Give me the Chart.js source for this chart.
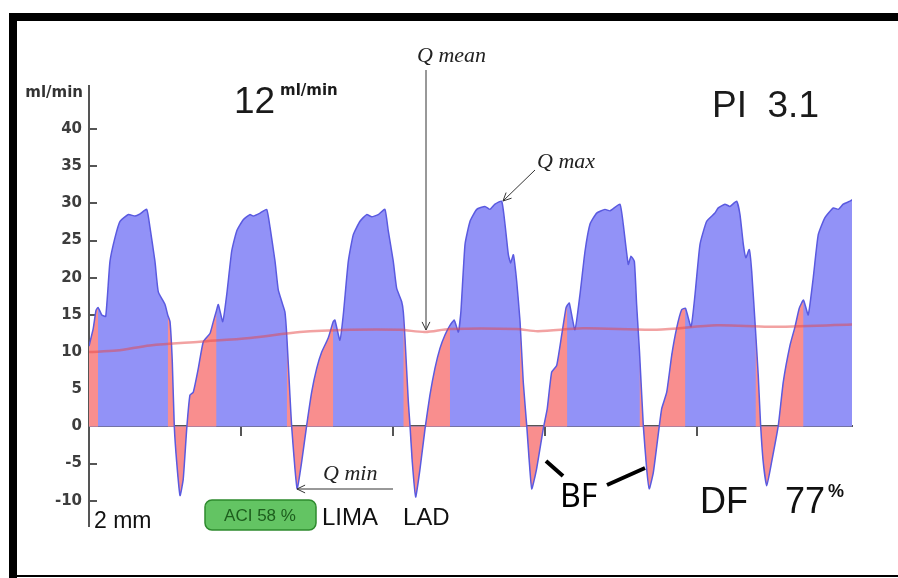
<!DOCTYPE html>
<html>
<head>
<meta charset="utf-8">
<script src="https://cdn.jsdelivr.net/npm/chart.js@4"></script>
<style>
  html, body { margin: 0; padding: 0; background: #fff; }
  canvas { display: block; }
</style>
</head>
<body>
<canvas id="fluxo" width="898" height="578"></canvas>
<script>
// flow curve, time in s, flow in ml/min
const time = [
  0.000, 0.028, 0.046, 0.060, 0.084, 0.110, 0.138, 0.171, 0.204, 0.259, 0.303, 0.336, 0.380, 0.401, 0.434, 0.456, 0.500, 0.518, 0.533, 0.548, 0.561, 0.577, 0.599, 0.620, 0.643, 0.664, 0.686, 0.719, 0.752, 0.796, 0.818,
  0.839, 0.851, 0.880, 0.906, 0.939, 0.972, 1.015, 1.059, 1.081, 1.125, 1.169, 1.191, 1.224, 1.245, 1.268, 1.289, 1.301, 1.322, 1.333, 1.355, 1.370, 1.399, 1.432, 1.465, 1.498, 1.531, 1.574,
  1.607, 1.618, 1.651, 1.673, 1.706, 1.739, 1.783, 1.827, 1.860, 1.903, 1.947, 1.969, 2.002, 2.024, 2.057, 2.068, 2.079, 2.101, 2.112, 2.127, 2.149, 2.178, 2.211, 2.243, 2.276, 2.309, 2.342,
  2.375, 2.403, 2.430, 2.447, 2.474, 2.507, 2.551, 2.605, 2.638, 2.671, 2.715, 2.737, 2.759, 2.774, 2.792, 2.814, 2.836, 2.857, 2.880, 2.897, 2.913, 2.945, 2.989, 3.015, 3.044, 3.077, 3.110, 3.138,
  3.147, 3.160, 3.197, 3.230, 3.263, 3.296, 3.340, 3.395, 3.428, 3.493, 3.515, 3.548, 3.566, 3.588, 3.603, 3.622, 3.647, 3.669, 3.686, 3.713, 3.750, 3.768, 3.801, 3.834, 3.866, 3.899,
  3.924, 3.961, 3.987, 4.020, 4.064, 4.118, 4.140, 4.184, 4.217, 4.261, 4.283, 4.305, 4.322, 4.344, 4.360, 4.385, 4.403, 4.419, 4.436, 4.459, 4.491, 4.535, 4.568, 4.612, 4.645, 4.673,
  4.701, 4.732, 4.765, 4.798, 4.842, 4.897, 4.930, 4.962, 5.007, 5.020
];
const flow = [
  10.8, 13.2, 15.6, 16.0, 15.0, 14.8, 22.2, 25.4, 27.6, 28.5, 28.3, 28.6, 29.2, 26.8, 22.2, 18.1, 16.4, 15.0, 14.1, 8.7, 0.1, -4.8, -9.3, -7.1, -0.3, 4.2, 4.6, 7.8, 11.4, 12.5, 14.1,
  15.6, 16.4, 14.1, 17.7, 23.6, 26.3, 27.8, 28.5, 28.3, 28.7, 29.2, 26.8, 22.2, 18.4, 16.8, 15.4, 12.3, 4.2, 0.1, -5.7, -8.4, -4.8, 0.1, 4.6, 7.8, 10.0, 11.9,
  14.1, 14.3, 11.6, 15.0, 22.2, 25.8, 27.6, 28.5, 28.2, 28.5, 29.2, 26.3, 22.2, 18.6, 16.8, 15.4, 11.9, 3.3, 0.1, -4.8, -9.5, -5.7, -0.3, 4.2, 7.8, 10.5, 12.3,
  13.6, 14.3, 12.7, 15.5, 24.5, 27.6, 29.2, 29.6, 29.2, 29.9, 30.3, 27.2, 23.1, 22.0, 23.1, 19.5, 14.1, 6.0, 0.1, -4.8, -8.4, -5.7, -0.3, 2.4, 7.3, 8.2, 12.3, 15.9,
  16.3, 16.6, 13.0, 17.7, 23.5, 27.2, 28.7, 29.2, 29.0, 29.9, 27.2, 21.8, 22.9, 22.2, 16.4, 10.0, 0.1, -5.7, -8.4, -6.2, -0.3, 2.4, 4.6, 9.6, 13.2, 15.7,
  15.9, 13.4, 17.7, 24.5, 27.6, 28.7, 29.4, 29.9, 29.6, 30.3, 28.5, 24.5, 22.7, 23.8, 20.9, 13.0, 6.9, 0.1, -4.8, -8.0, -4.8, 0.1, 6.0, 10.9, 13.4, 15.9,
  17.0, 15.0, 20.0, 25.8, 28.1, 29.4, 29.2, 29.9, 30.3, 30.5
];

// systolic (red) windows
const sysStart = [0.000, 0.518, 1.301, 2.068, 2.836, 3.622, 4.385];
const sysEnd   = [0.060, 0.839, 1.607, 2.375, 3.147, 3.924, 4.701];

// mean flow
const meanTime = [0, 0.182, 0.401, 0.730, 1.059, 1.388, 1.717, 2.046, 2.211, 2.375, 2.814, 2.954, 3.250, 3.735, 4.130, 4.480, 5.020];
const meanFlow = [10.0, 10.2, 10.9, 11.4, 11.9, 12.7, 13.0, 13.0, 12.7, 13.1, 13.1, 12.8, 13.2, 13.0, 13.6, 13.4, 13.7];

const yTicks = [-10, -5, 0, 5, 10, 15, 20, 25, 30, 35, 40];
const xTicks = [1, 2, 3, 4];

function emSistole(t) {
  for (let k = 0; k < sysStart.length; k++) {
    if (t >= sysStart[k] && t <= sysEnd[k]) return true;
  }
  return false;
}

const curva = time.map((t, i) => ({ x: t, y: flow[i] }));
const vermelho = time.map((t, i) => ({ x: t, y: emSistole(t) ? flow[i] : null }));
const media = meanTime.map((t, i) => ({ x: t, y: meanFlow[i] }));

function seta(ctx, x1, y1, x2, y2) {
  ctx.beginPath();
  ctx.moveTo(x1, y1);
  ctx.lineTo(x2, y2);
  const a = Math.atan2(y2 - y1, x2 - x1);
  ctx.moveTo(x2 - 9 * Math.cos(a - 0.45), y2 - 9 * Math.sin(a - 0.45));
  ctx.lineTo(x2, y2);
  ctx.lineTo(x2 - 9 * Math.cos(a + 0.45), y2 - 9 * Math.sin(a + 0.45));
  ctx.stroke();
}

const anotacoes = {
  id: 'anotacoes',
  afterDraw(chart) {
    const ctx = chart.ctx;
    ctx.save();
    // moldura
    ctx.fillStyle = '#000';
    ctx.fillRect(9, 13, 889, 8);
    ctx.fillRect(9, 13, 8, 565);
    ctx.fillRect(9, 575, 889, 2);

    ctx.fillStyle = '#333';
    ctx.textAlign = 'right';
    ctx.font = 'bold 15px "DejaVu Sans"';
    ctx.fillText('ml/min', 83, 97);

    ctx.textAlign = 'left';
    ctx.fillStyle = '#1a1a1a';
    ctx.font = '37px "Liberation Sans", Arial';
    ctx.fillText('12', 234, 113);
    ctx.fillText('PI  3.1', 712, 117);
    ctx.font = 'bold 15px "DejaVu Sans"';
    ctx.fillText('ml/min', 280, 95);

    // Q labels
    ctx.fillStyle = '#222';
    ctx.font = 'italic 22px "Liberation Serif", serif';
    ctx.fillText('Q mean', 417, 62);
    ctx.fillText('Q max', 537, 168);
    ctx.fillText('Q min', 323, 480);
    ctx.strokeStyle = '#333';
    ctx.lineWidth = 1;
    seta(ctx, 426, 70, 426, 330);
    seta(ctx, 535, 170, 503, 201);
    seta(ctx, 393, 489, 297, 489);

    // bottom texts
    ctx.fillStyle = '#111';
    ctx.font = '23px "Liberation Sans", Arial';
    ctx.fillText('2 mm', 94, 528);
    ctx.font = '24px "Liberation Sans", Arial';
    ctx.fillText('LIMA', 322, 525);
    ctx.fillText('LAD', 403, 525);

    ctx.beginPath();
    ctx.roundRect(205, 500, 111, 30, 7);
    ctx.fillStyle = '#63c463';
    ctx.fill();
    ctx.strokeStyle = '#2e8a2e';
    ctx.lineWidth = 1.5;
    ctx.stroke();
    ctx.fillStyle = '#1d5e1d';
    ctx.textAlign = 'center';
    ctx.font = '17px "Liberation Sans", Arial';
    ctx.fillText('ACI 58 %', 260, 521);

    ctx.textAlign = 'left';
    ctx.fillStyle = '#000';
    ctx.font = '32px "Noto Sans"';
    ctx.fillText('BF', 560, 507);
    ctx.strokeStyle = '#000';
    ctx.lineWidth = 4;
    ctx.beginPath();
    ctx.moveTo(546, 461); ctx.lineTo(563, 476);
    ctx.moveTo(607, 485); ctx.lineTo(645, 468);
    ctx.stroke();

    ctx.fillStyle = '#111';
    ctx.font = '36px "Liberation Sans", Arial';
    ctx.fillText('DF', 700, 513);
    ctx.fillText('77', 785, 513);
    ctx.font = 'bold 18px "Liberation Sans", Arial';
    ctx.fillText('%', 828, 497);
    ctx.restore();
  }
};

new Chart(document.getElementById('fluxo'), {
  type: 'line',
  data: {
    datasets: [
      { label: 'Q mean', data: media, borderColor: 'rgba(230,70,70,0.5)', borderWidth: 2.5, pointRadius: 0, tension: 0.3, fill: false },
      { label: 'Q', data: curva, borderColor: '#5a5ae0', borderWidth: 1.5, pointRadius: 0, tension: 0.15, fill: false },
      { label: 'sistole', data: vermelho, borderColor: 'rgba(0,0,0,0)', borderWidth: 0, backgroundColor: '#f98e8e', pointRadius: 0, tension: 0.15, fill: 'origin', spanGaps: false },
      { label: 'diastole', data: curva, borderColor: 'rgba(0,0,0,0)', borderWidth: 0, backgroundColor: '#9292f7', pointRadius: 0, tension: 0.15, fill: 'origin' }
    ]
  },
  options: {
    responsive: false,
    animation: false,
    events: [],
    layout: { padding: { top: 86, bottom: 52, left: 0, right: 46 } },
    plugins: { legend: { display: false }, tooltip: { enabled: false } },
    scales: {
      x: {
        type: 'linear', min: 0, max: 5.02, position: { y: 0 },
        afterBuildTicks: s => { s.ticks = xTicks.map(v => ({ value: v })); },
        ticks: { display: false },
        grid: { drawOnChartArea: false, drawTicks: true, tickLength: 9, color: '#555', lineWidth: 2 },
        border: { display: true, color: '#555', width: 2 }
      },
      y: {
        min: -13.4, max: 45.8, position: 'left',
        afterBuildTicks: s => { s.ticks = yTicks.map(v => ({ value: v })); },
        afterFit: s => { s.width = 89; },
        ticks: { font: { family: 'DejaVu Sans', weight: 'bold', size: 15 }, color: '#3d3d3d', padding: 15 },
        grid: { drawOnChartArea: false, drawTicks: true, tickLength: -8, color: '#555', lineWidth: 2 },
        border: { display: true, color: '#555', width: 2 }
      }
    }
  },
  plugins: [anotacoes]
});
</script>
</body>
</html>
